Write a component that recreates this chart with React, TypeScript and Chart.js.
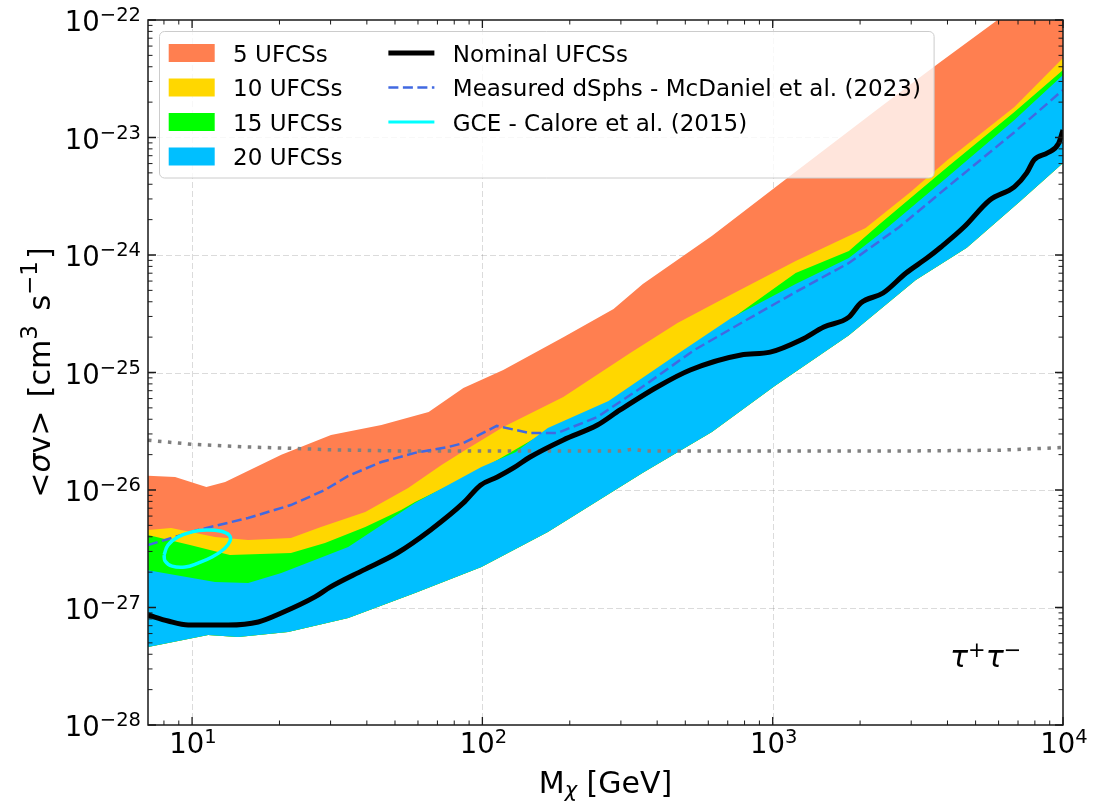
import React, { useEffect, useRef } from 'react';
import { Chart, registerables } from 'chart.js';

Chart.register(...registerables);

// ---------------- data ----------------
const X_MIN = 7.05;
const X_MAX = 10000;
const Y_MIN = 1e-28;
const Y_MAX = 1e-22;

const ORANGE_M = [7.05, 8.74, 11.2, 13.0, 20.3, 30.1, 44.9, 65.3, 86, 118, 190, 283, 357, 617, 1067, 2350, 3740, 5950, 10000];
const ORANGE_HI = [1.32e-26, 1.29e-26, 1.06e-26, 1.17e-26, 2.0e-26, 2.94e-26, 3.57e-26, 4.61e-26, 7.38e-26, 1.05e-25, 2.0e-25, 3.47e-25, 5.66e-25, 1.45e-24, 4.1e-24, 1.82e-23, 4.3e-23, 1.0e-22, 2.7e-22];

const YELLOW_M = [7.05, 8.47, 12.0, 15.6, 21.9, 27.8, 39.5, 55.5, 72.3, 87.4, 118, 190, 324, 470, 704, 1200, 2090, 2970, 4000, 6800, 10000];
const YELLOW_HI = [4.57e-27, 4.75e-27, 3.98e-27, 3.75e-27, 3.9e-27, 4.84e-27, 6.5e-27, 1.04e-26, 1.63e-26, 2.19e-26, 3.44e-26, 6.18e-26, 1.47e-25, 2.64e-25, 4.48e-25, 8.9e-25, 1.7e-24, 3.4e-24, 6.44e-24, 1.82e-23, 4.75e-23];

const GREEN_M = [7.05, 9.84, 13.5, 21.9, 28.7, 39.5, 52.5, 58.6, 99.2, 168, 272, 470, 720, 1200, 1830, 2360, 4000, 6800, 10000];
const GREEN_HI = [4.14e-27, 3.4e-27, 2.8e-27, 2.91e-27, 3.54e-27, 4.84e-27, 6.76e-27, 7.9e-27, 1.5e-26, 3.2e-26, 5.5e-26, 1.4e-25, 2.85e-25, 7.03e-25, 1.08e-24, 1.87e-24, 5.61e-24, 1.65e-23, 3.75e-23];

const BLUE_M = [7.05, 12.0, 15.6, 20.3, 34.5, 58.6, 99.2, 130, 168, 272, 470, 720, 1200, 1830, 2360, 4000, 6800, 10000];
const BLUE_HI = [2.08e-27, 1.65e-27, 1.62e-27, 1.97e-27, 3.27e-27, 7.74e-27, 1.57e-26, 2.1e-26, 3.37e-26, 5.71e-26, 1.44e-25, 2.91e-25, 5.66e-25, 9.42e-25, 1.54e-24, 4.61e-24, 1.41e-23, 3.4e-23];

const BLUE_LO_M = [7.05, 11.35, 14.4, 21.4, 34.5, 58.6, 99.2, 168, 357, 617, 1016, 1830, 3110, 4660, 7070, 10000];
const BLUE_LO = [4.61e-28, 5.83e-28, 5.61e-28, 6.18e-28, 8.15e-28, 1.33e-27, 2.21e-27, 4.4e-27, 1.4e-26, 3.12e-26, 7.67e-26, 2.08e-25, 6.12e-25, 1.15e-24, 2.82e-24, 6.07e-24];

const NOMINAL_M = [7.05, 8.27, 9.7, 13.3, 16.9, 20.3, 26.5, 29.9, 38.9, 50.9, 66.3, 86, 98.5, 112.6, 128, 146, 190, 249, 298, 400, 520, 778, 980, 1250, 1500, 1830, 2010, 2400, 2880, 3400, 3800, 4560, 5600, 6800, 7500, 7950, 8860, 9660, 10000];
const NOMINAL = [8.63e-28, 7.67e-28, 7.1e-28, 7.1e-28, 7.53e-28, 8.97e-28, 1.23e-27, 1.49e-27, 2.08e-27, 2.91e-27, 4.57e-27, 7.76e-27, 1.1e-26, 1.29e-26, 1.54e-26, 1.91e-26, 2.67e-26, 3.57e-26, 4.8e-26, 7.53e-26, 1.05e-25, 1.41e-25, 1.49e-25, 1.89e-25, 2.44e-25, 2.96e-25, 3.9e-25, 4.75e-25, 7.03e-25, 9.42e-25, 1.17e-24, 1.73e-24, 2.94e-24, 3.8e-24, 5.0e-24, 6.46e-24, 7.41e-24, 8.9e-24, 1.16e-23];

const DSPH_M = [7.05, 10.5, 15.6, 21.9, 28.7, 34.5, 44.9, 58.6, 76.3, 86, 112, 146, 181, 249, 324, 357, 536, 800, 1200, 1830, 2730, 4000, 6800, 10000];
const DSPH = [3.4e-27, 4.57e-27, 5.78e-27, 7.45e-27, 1.0e-26, 1.32e-26, 1.73e-26, 2.07e-26, 2.32e-26, 2.51e-26, 3.51e-26, 3.05e-26, 3.05e-26, 4.18e-26, 6.46e-26, 7.59e-26, 1.55e-25, 2.74e-25, 4.84e-25, 8.55e-25, 1.73e-24, 3.79e-24, 1.11e-23, 2.54e-23];

const RELIC_M = [7.05, 10, 15, 20, 30, 50, 100, 300, 330, 360, 1000, 3000, 6000, 10000];
const RELIC = [2.65e-26, 2.45e-26, 2.33e-26, 2.28e-26, 2.2e-26, 2.15e-26, 2.15e-26, 2.15e-26, 2.22e-26, 2.15e-26, 2.15e-26, 2.15e-26, 2.18e-26, 2.3e-26];

const GCE_M = [8.01, 8.26, 8.95, 10.0, 11.18, 12.49, 13.41, 13.52, 12.89, 11.72, 10.49, 9.46, 8.53, 8.07, 8.01];
const GCE = [2.8e-27, 3.4e-27, 3.98e-27, 4.4e-27, 4.57e-27, 4.48e-27, 4.14e-27, 3.68e-27, 3.15e-27, 2.69e-27, 2.39e-27, 2.21e-27, 2.25e-27, 2.49e-27, 2.8e-27];

const X_TICKS = [10, 100, 1000, 10000];
const X_TICK_EXP = ['1', '2', '3', '4'];
const X_MINOR = [7, 8, 9, 20, 30, 40, 50, 60, 70, 80, 90, 200, 300, 400, 500, 600, 700, 800, 900, 2000, 3000, 4000, 5000, 6000, 7000, 8000, 9000];
const Y_TICKS = [1e-28, 1e-27, 1e-26, 1e-25, 1e-24, 1e-23, 1e-22];
const Y_TICK_EXP = ['\u221228', '\u221227', '\u221226', '\u221225', '\u221224', '\u221223', '\u221222'];
const Y_MINOR_MANT = [2, 3, 4, 5, 6, 7, 8, 9];

const BAND_LABELS = ['5 UFCSs', '10 UFCSs', '15 UFCSs', '20 UFCSs'];
const LINE_LABELS = ['Nominal UFCSs', 'Measured dSphs - McDaniel et al. (2023)', 'GCE - Calore et al. (2015)'];

// ---------------- styles ----------------
const FONT = '"DejaVu Sans", "Liberation Sans", sans-serif';
const C_ORANGE = '#FF7F50';
const C_YELLOW = '#FFD700';
const C_GREEN = '#00FF00';
const C_BLUE = '#00BFFF';
const C_DASH = '#4169E1';
const C_CYAN = '#00FFFF';
const C_GRAY = '#808080';
const BAND_COLORS = [C_ORANGE, C_YELLOW, C_GREEN, C_BLUE];

const pts = (xs: number[], ys: number[]) => xs.map((x, i) => ({ x, y: ys[i] }));

type Piece = { t: string; size: number; italic?: boolean; dy?: number; gap?: number };

function drawPieces(ctx: CanvasRenderingContext2D, pieces: Piece[], x: number, y: number, align: 'left' | 'center' | 'right') {
  const widths = pieces.map((p) => {
    ctx.font = `${p.italic ? 'italic ' : ''}${p.size}px ${FONT}`;
    return ctx.measureText(p.t).width + (p.gap || 0);
  });
  const total = widths.reduce((a, b) => a + b, 0);
  let cx = align === 'center' ? x - total / 2 : align === 'right' ? x - total : x;
  ctx.textAlign = 'left';
  ctx.textBaseline = 'alphabetic';
  pieces.forEach((p, i) => {
    ctx.font = `${p.italic ? 'italic ' : ''}${p.size}px ${FONT}`;
    ctx.fillText(p.t, cx, y + (p.dy || 0));
    cx += widths[i];
  });
}

const axesPlugin = {
  id: 'mplAxes',
  beforeDatasetsDraw(chart: any) {
    const { ctx, chartArea: a } = chart;
    const xs = chart.scales.x;
    const ys = chart.scales.y;
    ctx.save();
    ctx.strokeStyle = 'rgba(0,0,0,0.14)';
    ctx.lineWidth = 1;
    ctx.setLineDash([6, 3]);
    for (const v of X_TICKS) {
      const px = xs.getPixelForValue(v);
      if (px <= a.left + 2 || px >= a.right - 2) continue;
      ctx.beginPath();
      ctx.moveTo(Math.round(px) + 0.5, a.top);
      ctx.lineTo(Math.round(px) + 0.5, a.bottom);
      ctx.stroke();
    }
    for (const v of Y_TICKS) {
      const py = ys.getPixelForValue(v);
      if (py <= a.top + 2 || py >= a.bottom - 2) continue;
      ctx.beginPath();
      ctx.moveTo(a.left, Math.round(py) + 0.5);
      ctx.lineTo(a.right, Math.round(py) + 0.5);
      ctx.stroke();
    }
    ctx.restore();
  },
  afterDatasetsDraw(chart: any) {
    const { ctx, chartArea: a } = chart;
    const xs = chart.scales.x;
    const ys = chart.scales.y;
    ctx.save();
    ctx.setLineDash([]);
    // frame
    ctx.strokeStyle = '#1a1a1a';
    ctx.lineWidth = 1.5;
    ctx.strokeRect(a.left, a.top, a.right - a.left, a.bottom - a.top);

    // ticks (inward, all sides)
    const tickX = (v: number, len: number, w: number) => {
      const px = xs.getPixelForValue(v);
      if (px < a.left - 0.5 || px > a.right + 0.5) return;
      ctx.lineWidth = w;
      ctx.beginPath();
      ctx.moveTo(px, a.bottom); ctx.lineTo(px, a.bottom - len);
      ctx.moveTo(px, a.top); ctx.lineTo(px, a.top + len);
      ctx.stroke();
    };
    const tickY = (v: number, len: number, w: number) => {
      const py = ys.getPixelForValue(v);
      if (py < a.top - 0.5 || py > a.bottom + 0.5) return;
      ctx.lineWidth = w;
      ctx.beginPath();
      ctx.moveTo(a.left, py); ctx.lineTo(a.left + len, py);
      ctx.moveTo(a.right, py); ctx.lineTo(a.right - len, py);
      ctx.stroke();
    };
    X_TICKS.forEach((v) => tickX(v, 8, 1.3));
    X_MINOR.forEach((v) => tickX(v, 4.5, 1));
    Y_TICKS.forEach((v) => tickY(v, 8, 1.3));
    for (let k = 0; k < Y_TICKS.length - 1; k++) {
      Y_MINOR_MANT.forEach((m) => tickY(m * Y_TICKS[k], 4.5, 1));
    }

    // tick labels
    ctx.fillStyle = '#000';
    X_TICKS.forEach((v, i) => {
      const px = xs.getPixelForValue(v);
      drawPieces(ctx, [{ t: '10', size: 27.5 }, { t: X_TICK_EXP[i], size: 19.5, dy: -10 }], px + 1, a.bottom + 28, 'center');
    });
    Y_TICKS.forEach((v, i) => {
      const py = ys.getPixelForValue(v);
      drawPieces(ctx, [{ t: '10', size: 27.5 }, { t: Y_TICK_EXP[i], size: 19.5, dy: -10 }], a.left - 7, py + 11, 'right');
    });

    // axis titles
    drawPieces(ctx, [{ t: 'M', size: 30 }, { t: '\u03C7', size: 21, italic: true, dy: 4 }, { t: ' [GeV]', size: 30 }], (a.left + a.right) / 2, 793, 'center');
    ctx.save();
    ctx.translate(50, (a.top + a.bottom) / 2);
    ctx.rotate(-Math.PI / 2);
    drawPieces(ctx, [
      { t: '<', size: 30 }, { t: '\u03C3', size: 30, italic: true }, { t: 'v>', size: 30, gap: 4 }, { t: ' [cm', size: 30 },
      { t: '3', size: 23, dy: -13, gap: 5 }, { t: ' s', size: 30 }, { t: '\u22121', size: 23, dy: -13, gap: 2 }, { t: ']', size: 30 },
    ], 0, 0, 'center');
    ctx.restore();

    // channel annotation
    drawPieces(ctx, [
      { t: '\u03C4', size: 30, italic: true }, { t: '+', size: 21, dy: -10 },
      { t: '\u03C4', size: 30, italic: true }, { t: '\u2212', size: 21, dy: -10 },
    ], 950, 667, 'left');

    // legend
    const f = 23;
    ctx.font = `${f}px ${FONT}`;
    const w1 = Math.max(...BAND_LABELS.map((s) => ctx.measureText(s).width));
    const w2 = Math.max(...LINE_LABELS.map((s) => ctx.measureText(s).width));
    const boxL = a.left + 11.5;
    const boxT = a.top + 11.5;
    const pad = 0.4 * f;
    const hx1 = boxL + pad;
    const tx1 = hx1 + 2.8 * f;
    const hx2 = tx1 + w1 + 2 * f;
    const tx2 = hx2 + 2.8 * f;
    const boxR = tx2 + w2 + pad + 4;
    const boxB = boxT + 146.5;
    const rowY = (i: number) => boxT + 21.5 + i * 34.5;
    const r = 5;
    ctx.beginPath();
    ctx.moveTo(boxL + r, boxT);
    ctx.arcTo(boxR, boxT, boxR, boxB, r);
    ctx.arcTo(boxR, boxB, boxL, boxB, r);
    ctx.arcTo(boxL, boxB, boxL, boxT, r);
    ctx.arcTo(boxL, boxT, boxR, boxT, r);
    ctx.closePath();
    ctx.fillStyle = 'rgba(255,255,255,0.8)';
    ctx.fill();
    ctx.strokeStyle = '#cccccc';
    ctx.lineWidth = 1;
    ctx.stroke();

    BAND_LABELS.forEach((s, i) => {
      const cy = rowY(i);
      ctx.fillStyle = BAND_COLORS[i];
      ctx.fillRect(hx1, cy - 9, 2 * f, 18);
      ctx.fillStyle = '#000';
      ctx.font = `${f}px ${FONT}`;
      ctx.textAlign = 'left';
      ctx.textBaseline = 'alphabetic';
      ctx.fillText(s, tx1, cy + 8.5);
    });
    const lineStyles = [
      { c: '#000', w: 5, d: [] as number[] },
      { c: C_DASH, w: 2.5, d: [10, 4.5] },
      { c: C_CYAN, w: 3, d: [] as number[] },
    ];
    LINE_LABELS.forEach((s, i) => {
      const cy = rowY(i);
      const st = lineStyles[i];
      ctx.strokeStyle = st.c;
      ctx.lineWidth = st.w;
      ctx.setLineDash(st.d);
      ctx.beginPath();
      ctx.moveTo(hx2, cy);
      ctx.lineTo(hx2 + 2 * f, cy);
      ctx.stroke();
      ctx.setLineDash([]);
      ctx.fillStyle = '#000';
      ctx.font = `${f}px ${FONT}`;
      ctx.textAlign = 'left';
      ctx.textBaseline = 'alphabetic';
      ctx.fillText(s, tx2, cy + 8.5);
    });
    ctx.restore();
  },
};

export default function App() {
  const ref = useRef<HTMLCanvasElement>(null);
  useEffect(() => {
    const common = { pointRadius: 0, pointHoverRadius: 0, clip: 0 };
    const band = (label: string, xs: number[], ys: number[], color: string, order: number) => ({
      ...common, label, data: pts(xs, ys), order, fill: 4, backgroundColor: color,
      borderColor: 'transparent', borderWidth: 0, tension: 0,
    });
    const chart = new Chart(ref.current as HTMLCanvasElement, {
      type: 'line',
      data: {
        datasets: [
          band('5 UFCSs', ORANGE_M, ORANGE_HI, C_ORANGE, 10),
          band('10 UFCSs', YELLOW_M, YELLOW_HI, C_YELLOW, 9),
          band('15 UFCSs', GREEN_M, GREEN_HI, C_GREEN, 8),
          band('20 UFCSs', BLUE_M, BLUE_HI, C_BLUE, 7),
          { ...common, label: 'lower', data: pts(BLUE_LO_M, BLUE_LO), order: 6, fill: false, borderColor: 'transparent', borderWidth: 0, tension: 0 },
          { ...common, label: 'relic', data: pts(RELIC_M, RELIC), order: 5, fill: false, borderColor: C_GRAY, borderWidth: 3.5, borderDash: [3.5, 6.5], borderCapStyle: 'butt', tension: 0 },
          { ...common, label: 'Nominal UFCSs', data: pts(NOMINAL_M, NOMINAL), order: 4, fill: false, borderColor: '#000', borderWidth: 5, cubicInterpolationMode: 'monotone', borderJoinStyle: 'round' },
          { ...common, label: 'Measured dSphs', data: pts(DSPH_M, DSPH), order: 3, fill: false, borderColor: C_DASH, borderWidth: 2.5, borderDash: [10, 4.5], tension: 0 },
          { ...common, label: 'GCE', data: pts(GCE_M, GCE), order: 2, fill: false, borderColor: C_CYAN, borderWidth: 3.5, tension: 0.4 },
        ] as any,
      },
      options: {
        responsive: false,
        animation: false,
        devicePixelRatio: 1,
        events: [],
        layout: { padding: { left: 148, right: 54, top: 20, bottom: 81 } },
        scales: {
          x: { type: 'logarithmic', min: X_MIN, max: X_MAX, display: false, bounds: 'data' } as any,
          y: { type: 'logarithmic', min: Y_MIN, max: Y_MAX, display: false, bounds: 'data' } as any,
        },
        plugins: {
          legend: { display: false },
          tooltip: { enabled: false },
        },
      },
      plugins: [axesPlugin],
    });
    return () => chart.destroy();
  }, []);
  return (
    <div style={{ position: 'fixed', left: 0, top: 0, width: 1117, height: 806, background: '#fff' }}>
      <canvas ref={ref} width={1117} height={806} style={{ display: 'block' }} />
    </div>
  );
}
